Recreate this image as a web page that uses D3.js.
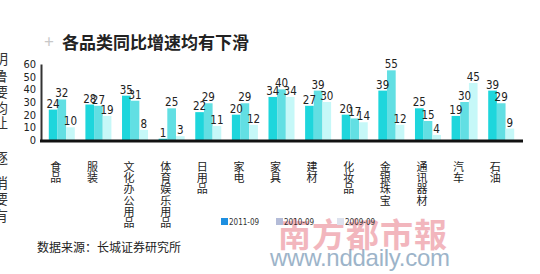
<!DOCTYPE html>
<html lang="zh">
<head>
<meta charset="utf-8">
<title>各品类同比增速均有下滑</title>
<script src="https://d3js.org/d3.v7.min.js"></script>
<style>
  body { margin: 0; background: #fff; }
  svg { display: block; font-family: "Noto Sans CJK SC", sans-serif; }
</style>
</head>
<body>
<script>
// categories and the three series (same order as bars in each group)
const categories = ["食品","服装","文化办公用品","体育娱乐用品","日用品","家电","家具","建材","化妆品","金银珠宝","通讯器材","汽车","石油"];
const s2011 = [24, 28, 35, 1, 22, 20, 34, 27, 20, 39, 25, 19, 39];
const s2010 = [32, 27, 31, 25, 29, 29, 40, 39, 17, 55, 15, 30, 29];
const s2009 = [10, 19, 8, 3, 11, 12, 34, 30, 14, 12, 4, 45, 9];
const seriesNames = ["2011-09", "2010-09", "2009-09"];
const yTicks = [0, 10, 20, 30, 40, 50, 60];

const w = 540, h = 274;
const barColors = ["#1ed6dc", "#62dfe3", "#c6f8f8"];
const legendColors = ["#1e8fe0", "#b4bcd8", "#dde2ee"];

const svg = d3.select("body").append("svg")
    .attr("width", w)
    .attr("height", h);

// cut-off article text on the left edge
const sideChars = ["明", "鲁", "要", "均", "让", "，", "逐", "消", "要", "有"];
const sideY = [64, 81, 97, 113, 128, 148, 163, 188, 204, 221];
svg.append("g").selectAll("text")
    .data(sideChars)
    .join("text")
    .attr("x", -6)
    .attr("y", (d, i) => sideY[i])
    .attr("font-size", 14)
    .attr("fill", "#333")
    .text(d => d);

// title
svg.append("text")
    .attr("x", 49).attr("y", 48)
    .attr("text-anchor", "middle")
    .attr("font-size", 17)
    .attr("fill", "#c8c8c8")
    .text("+");
svg.append("text")
    .attr("x", 62).attr("y", 49)
    .attr("font-size", 17)
    .attr("font-weight", "bold")
    .attr("fill", "#222")
    .text("各品类同比增速均有下滑");

const x = d3.scaleBand()
    .domain(categories)
    .range([40, 523])
    .paddingInner(0.29)
    .paddingOuter(0.24);

const xs = d3.scaleBand()
    .domain(seriesNames)
    .range([0, x.bandwidth()]);

const y = d3.scaleLinear()
    .domain([0, 60])
    .range([140, 64]);

const rows = categories.map((c, i) => ({ cat: c, vals: [s2011[i], s2010[i], s2009[i]] }));

const groups = svg.append("g").selectAll("g")
    .data(rows)
    .join("g")
    .attr("transform", d => `translate(${x(d.cat)},0)`);

groups.selectAll("rect")
    .data(d => d.vals.map((v, k) => ({ k, v })))
    .join("rect")
    .attr("x", d => xs(seriesNames[d.k]))
    .attr("y", d => y(d.v))
    .attr("width", xs.bandwidth())
    .attr("height", d => y(0) - y(d.v))
    .attr("fill", d => barColors[d.k]);

groups.selectAll("text.val")
    .data(d => d.vals.map((v, k) => ({ k, v })))
    .join("text")
    .attr("class", "val")
    .attr("x", d => xs(seriesNames[d.k]) + xs.bandwidth() / 2)
    .attr("y", d => y(d.v) - 2)
    .attr("text-anchor", "middle")
    .attr("font-family", "Liberation Sans Narrow, DejaVu Sans Condensed, sans-serif")
    .attr("font-size", 11.5)
    .attr("fill", "#222")
    .text(d => d.v);

// category labels, stacked vertically one character per line
groups.append("text")
    .attr("font-size", 11)
    .attr("fill", "#222")
    .attr("text-anchor", "middle")
    .selectAll("tspan")
    .data(d => Array.from(d.cat))
    .join("tspan")
    .attr("x", 7)
    .attr("y", (d, i) => 171 + i * 11.2)
    .text(d => d);

// y axis
const yAxis = svg.append("g")
    .attr("transform", "translate(41,0)")
    .call(d3.axisLeft(y).tickValues(yTicks).tickSize(0).tickPadding(5));
yAxis.select(".domain").attr("stroke", "#333").attr("stroke-width", 2);
yAxis.selectAll("text")
    .attr("font-family", "Liberation Sans Narrow, DejaVu Sans Condensed, sans-serif")
    .attr("font-size", 11)
    .attr("fill", "#222");

// baseline
svg.append("line")
    .attr("x1", 40).attr("x2", 523)
    .attr("y1", y(0) + 1).attr("y2", y(0) + 1)
    .attr("stroke", "#111")
    .attr("stroke-width", 3);

// watermark
svg.append("text")
    .attr("x", 278).attr("y", 247)
    .attr("font-size", 33)
    .attr("font-weight", "bold")
    .attr("fill", "#e6707e")
    .attr("opacity", 0.5)
    .attr("letter-spacing", 1)
    .text("南方都市報");
svg.append("text")
    .attr("x", 270).attr("y", 266)
    .attr("font-family", "Liberation Sans, Arial, sans-serif")
    .attr("font-size", 24)
    .attr("textLength", 180)
    .attr("fill", "#7d9cb8")
    .attr("opacity", 0.75)
    .text("www.nddaily.com");

// legend
const legendX = [221, 276, 337];
const legend = svg.append("g").selectAll("g")
    .data(seriesNames)
    .join("g")
    .attr("transform", (d, i) => `translate(${legendX[i]},218)`);
legend.append("rect")
    .attr("width", 7).attr("height", 7)
    .attr("fill", (d, i) => legendColors[i]);
legend.append("text")
    .attr("x", 8).attr("y", 7)
    .attr("font-family", "Liberation Sans Narrow, DejaVu Sans Condensed, sans-serif")
    .attr("font-size", 8)
    .attr("fill", "#333")
    .text(d => d);

// source
svg.append("text")
    .attr("x", 37).attr("y", 252)
    .attr("font-size", 12)
    .attr("fill", "#222")
    .text("数据来源：长城证券研究所");
</script>
</body>
</html>
